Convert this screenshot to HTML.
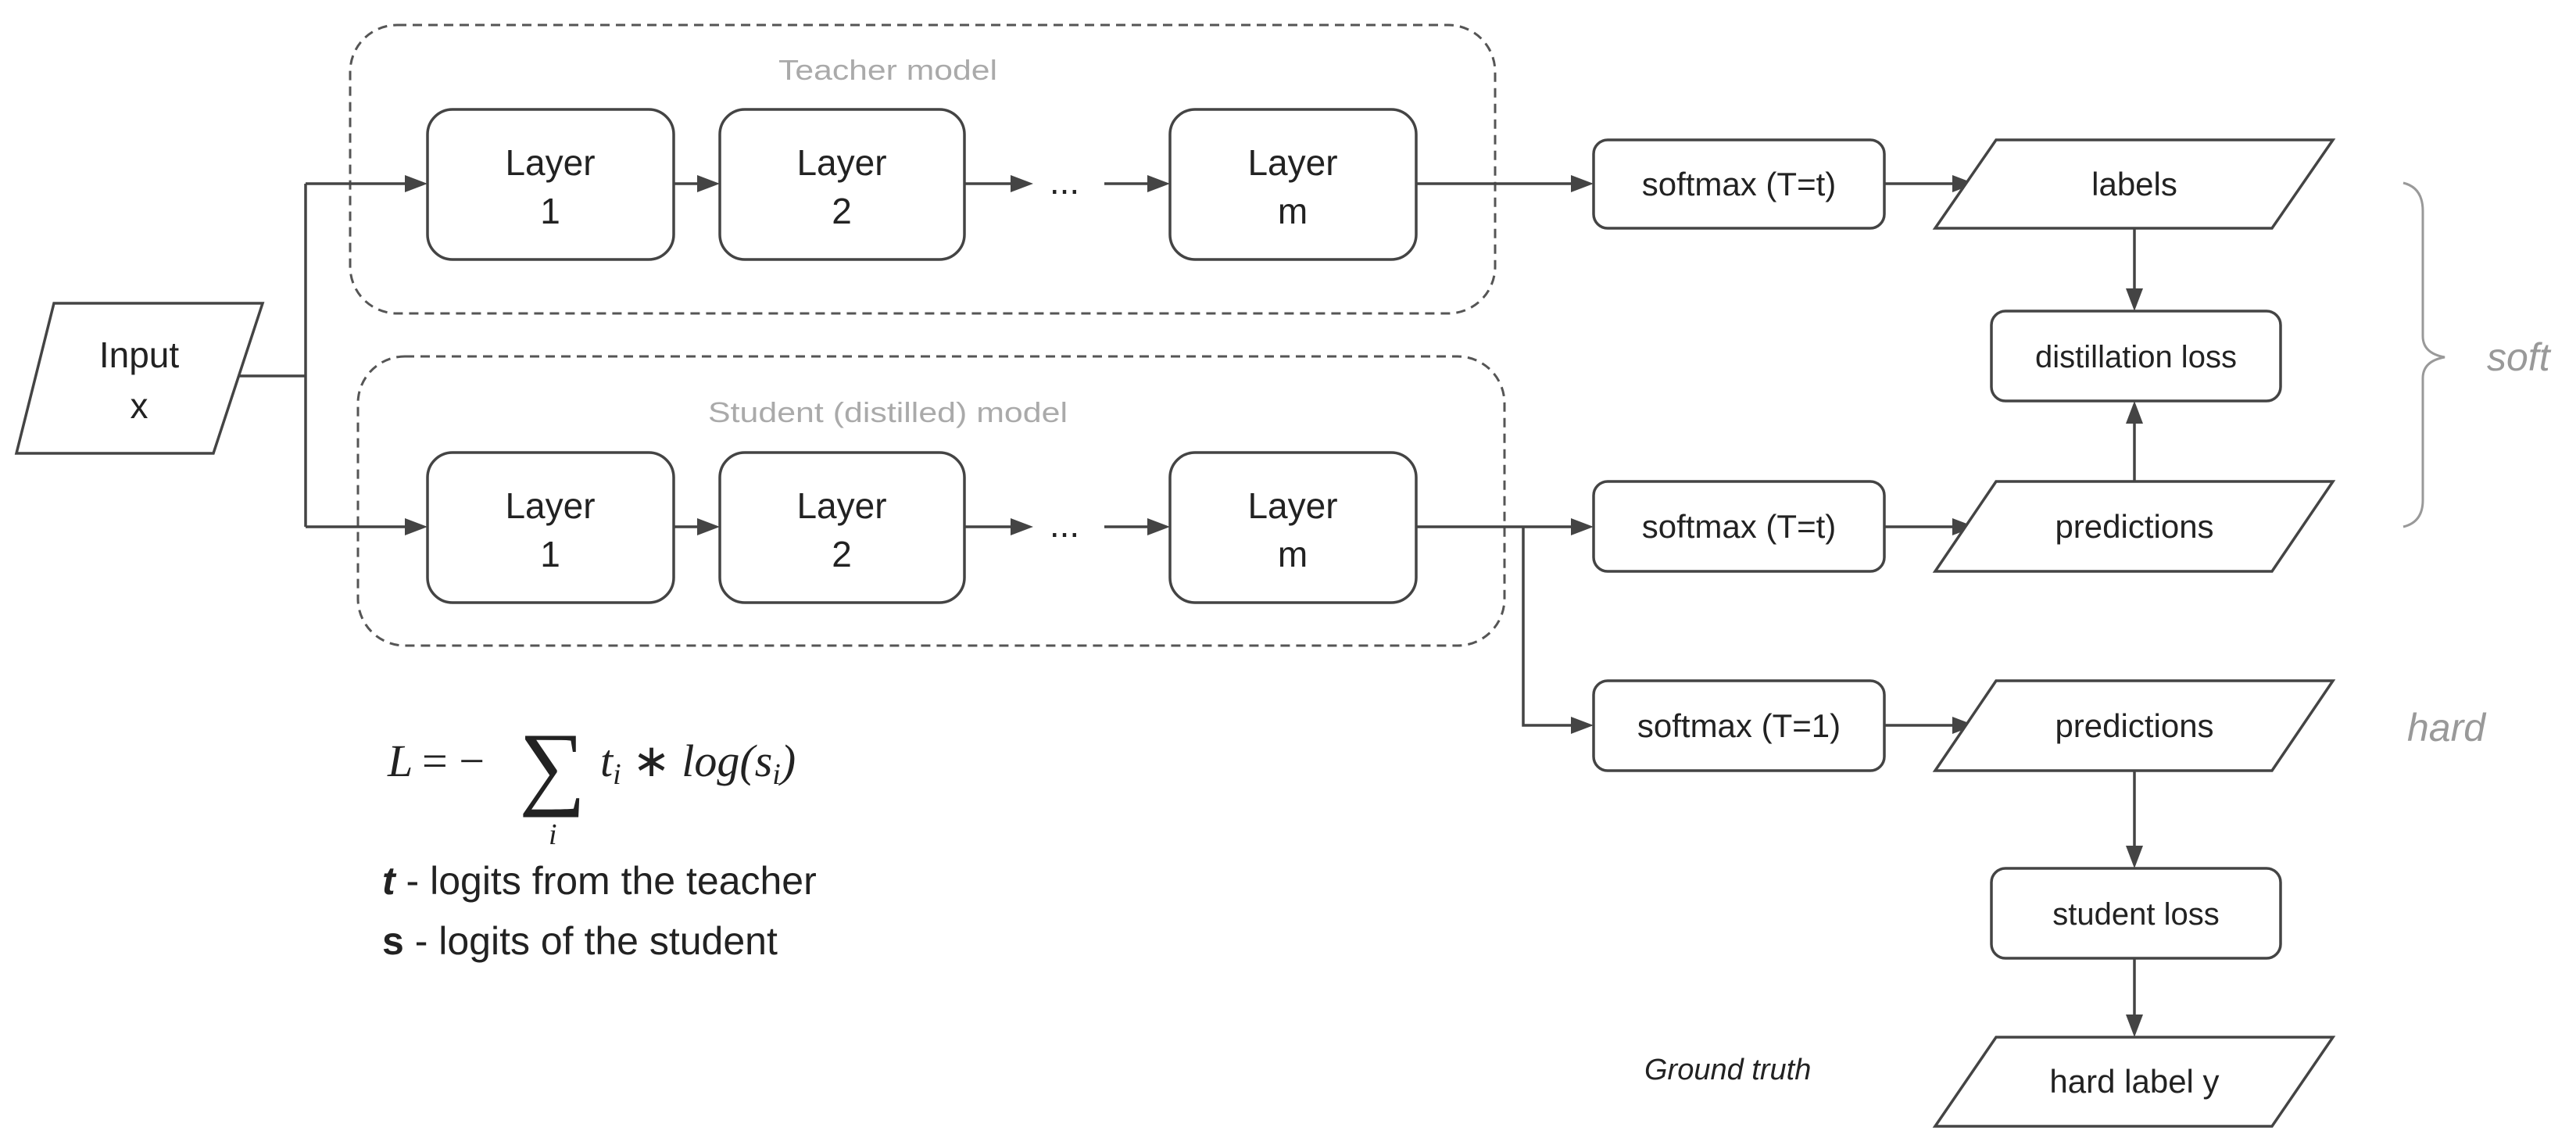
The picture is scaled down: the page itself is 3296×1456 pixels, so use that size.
<!DOCTYPE html>
<html><head><meta charset="utf-8"><style>
html,body{margin:0;padding:0;background:#fff;}
svg{display:block;}
text{font-family:"Liberation Sans",sans-serif;fill:#222;}
</style></head><body>
<svg width="3296" height="1456" viewBox="0 0 3296 1456" xmlns="http://www.w3.org/2000/svg">
<style>
.b{fill:#fff;stroke:#444;stroke-width:3.5;}
.d{fill:none;stroke:#555;stroke-width:3;stroke-dasharray:12 8;}
.l{fill:none;stroke:#444;stroke-width:3.5;}
.h{fill:#444;}
.t{font-size:46px;text-anchor:middle;}
.s{font-size:42px;text-anchor:middle;}
.g{font-size:36px;text-anchor:middle;fill:#aaa;}
</style>

<rect class="d" x="448" y="32" width="1465" height="369" rx="60"/>
<text class="g" x="1136" y="102" textLength="280" lengthAdjust="spacingAndGlyphs">Teacher model</text>
<rect class="d" x="458" y="456" width="1467" height="370" rx="60"/>
<text class="g" x="1136" y="540" textLength="460" lengthAdjust="spacingAndGlyphs">Student (distilled) model</text>

<polygon class="b" points="69,388 336,388 273,580 21,580"/>
<text class="t" x="178" y="470">Input</text>
<text class="t" x="178" y="535">x</text>

<path class="l" d="M306,481 H391 M391,235 V674 M391,235 H520 M391,674 H520"/>
<polygon class="h" points="547,235 518,224 518,246"/>
<polygon class="h" points="547,674 518,663 518,685"/>

<rect class="b" x="547" y="140" width="315" height="192" rx="32"/>
<rect class="b" x="921" y="140" width="313" height="192" rx="32"/>
<rect class="b" x="1497" y="140" width="315" height="192" rx="32"/>
<text class="t" x="704" y="224">Layer</text><text class="t" x="704" y="286">1</text>
<text class="t" x="1077" y="224">Layer</text><text class="t" x="1077" y="286">2</text>
<text class="t" x="1654" y="224">Layer</text><text class="t" x="1654" y="286">m</text>
<path class="l" d="M862,235 H895 M1234,235 H1295 M1413,235 H1472"/>
<polygon class="h" points="921,235 892,224 892,246"/>
<polygon class="h" points="1322,235 1293,224 1293,246"/>
<polygon class="h" points="1497,235 1468,224 1468,246"/>
<text class="t" x="1362" y="248">...</text>

<rect class="b" x="547" y="579" width="315" height="192" rx="32"/>
<rect class="b" x="921" y="579" width="313" height="192" rx="32"/>
<rect class="b" x="1497" y="579" width="315" height="192" rx="32"/>
<text class="t" x="704" y="663">Layer</text><text class="t" x="704" y="725">1</text>
<text class="t" x="1077" y="663">Layer</text><text class="t" x="1077" y="725">2</text>
<text class="t" x="1654" y="663">Layer</text><text class="t" x="1654" y="725">m</text>
<path class="l" d="M862,674 H895 M1234,674 H1295 M1413,674 H1472"/>
<polygon class="h" points="921,674 892,663 892,685"/>
<polygon class="h" points="1322,674 1293,663 1293,685"/>
<polygon class="h" points="1497,674 1468,663 1468,685"/>
<text class="t" x="1362" y="687">...</text>

<path class="l" d="M1812,235 H2012 M1812,674 H2012 M1949,674 V928 H2012"/>
<polygon class="h" points="2039,235 2010,224 2010,246"/>
<polygon class="h" points="2039,674 2010,663 2010,685"/>
<polygon class="h" points="2039,928 2010,917 2010,939"/>

<rect class="b" x="2039" y="179" width="372" height="113" rx="18"/>
<rect class="b" x="2039" y="616" width="372" height="115" rx="18"/>
<rect class="b" x="2039" y="871" width="372" height="115" rx="18"/>
<text class="s" x="2225" y="250">softmax (T=t)</text>
<text class="s" x="2225" y="688">softmax (T=t)</text>
<text class="s" x="2225" y="943">softmax (T=1)</text>

<path class="l" d="M2411,235 H2500 M2411,674 H2500 M2411,928 H2500"/>
<polygon class="h" points="2527,235 2498,224 2498,246"/>
<polygon class="h" points="2527,674 2498,663 2498,685"/>
<polygon class="h" points="2527,928 2498,917 2498,939"/>

<polygon class="b" points="2554,179 2985,179 2907,292 2476,292"/>
<text class="s" x="2731" y="250">labels</text>
<polygon class="b" points="2554,616 2985,616 2907,731 2476,731"/>
<text class="s" x="2731" y="688">predictions</text>
<polygon class="b" points="2554,871 2985,871 2907,986 2476,986"/>
<text class="s" x="2731" y="943">predictions</text>
<polygon class="b" points="2554,1327 2985,1327 2907,1441 2476,1441"/>
<text class="s" x="2731" y="1398">hard label y</text>

<rect class="b" x="2548" y="398" width="370" height="115" rx="18"/>
<text class="s" x="2733" y="470" style="font-size:40px">distillation loss</text>
<rect class="b" x="2548" y="1111" width="370" height="115" rx="18"/>
<text class="s" x="2733" y="1183" style="font-size:40px">student loss</text>

<path class="l" d="M2731,292 V372 M2731,616 V540 M2731,986 V1085 M2731,1226 V1300"/>
<polygon class="h" points="2731,398 2720,369 2742,369"/>
<polygon class="h" points="2731,513 2720,542 2742,542"/>
<polygon class="h" points="2731,1111 2720,1082 2742,1082"/>
<polygon class="h" points="2731,1327 2720,1298 2742,1298"/>

<path d="M3075,234 Q3100,240 3100,270 L3100,430 Q3100,452 3128,457 Q3100,462 3100,484 L3100,640 Q3100,668 3075,674" fill="none" stroke="#999" stroke-width="3"/>
<text x="3182" y="474" style="font-size:50px;font-style:italic;fill:#999">soft</text>
<text x="3080" y="948" style="font-size:50px;font-style:italic;fill:#999">hard</text>
<text x="2104" y="1381" style="font-size:38px;font-style:italic;fill:#222">Ground truth</text>

<text x="496" y="993" style="font-family:'Liberation Serif',serif;font-size:58px;font-style:italic">L</text>
<text x="540" y="993" style="font-family:'Liberation Serif',serif;font-size:58px">= −</text>
<text x="664" y="1020" style="font-family:'Liberation Serif',serif;font-size:120px">∑</text>
<text x="702" y="1080" style="font-family:'Liberation Serif',serif;font-size:38px;font-style:italic">i</text>
<text x="768" y="993" style="font-family:'Liberation Serif',serif;font-size:58px;font-style:italic">t<tspan style="font-size:38px" dy="10">i</tspan><tspan dy="-10" style="font-style:normal"> ∗ </tspan>log(s<tspan style="font-size:38px" dy="10">i</tspan><tspan dy="-10">)</tspan></text>

<text x="489" y="1144" style="font-size:50px"><tspan style="font-weight:bold;font-style:italic">t</tspan> - logits from the teacher</text>
<text x="489" y="1221" style="font-size:50px"><tspan style="font-weight:bold">s</tspan> - logits of the student</text>
</svg>
</body></html>
